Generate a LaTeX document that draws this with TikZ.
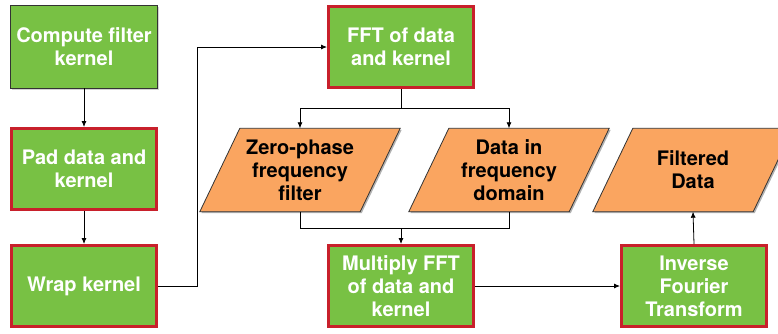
\documentclass[tikz,border=0pt]{standalone}
\usepackage{fontspec}
\setmainfont{TeX Gyre Heros}
\usetikzlibrary{arrows.meta,shadows,calc}
\definecolor{boxgreen}{RGB}{120,193,68}
\definecolor{boxred}{RGB}{200,32,43}
\definecolor{paraorange}{RGB}{250,165,96}
\tikzset{
  greenbox/.style={rectangle, fill=boxgreen, draw=boxred, line width=3pt,
    minimum width=145pt, minimum height=81pt, inner sep=0pt, align=center,
    text=white, font=\fontsize{20}{23}\selectfont\bfseries,
    drop shadow={shadow xshift=1.5pt, shadow yshift=-1.5pt, opacity=0.35}},
  plainbox/.style={greenbox, draw=black!80, line width=0.8pt,
    minimum width=147pt, minimum height=83pt},
  paratext/.style={rectangle, minimum width=160pt, minimum height=83pt,
    inner sep=0pt, align=center, text=black,
    font=\fontsize{20}{23}\selectfont\bfseries},
  parashape/.style={fill=paraorange, draw=black!80, line width=0.8pt},
  arr/.style={draw=black, line width=0.8pt, -{Latex[length=6pt,width=5pt]}},
  ln/.style={draw=black, line width=0.8pt}
}
\newcommand{\myparallel}[1]{%
  \fill[black, opacity=0.3] ($(#1.south west)+(-18.5pt,-1.5pt)$) -- ($(#1.south east)+(-18.5pt,-1.5pt)$) -- ($(#1.north east)+(21.5pt,-1.5pt)$) -- ($(#1.north west)+(21.5pt,-1.5pt)$) -- cycle;
  \path[parashape] ($(#1.south west)+(-20pt,0)$) -- ($(#1.south east)+(-20pt,0)$) -- ($(#1.north east)+(20pt,0)$) -- ($(#1.north west)+(20pt,0)$) -- cycle;
}
\begin{document}
\begin{tikzpicture}[x=1pt,y=-1pt]
\useasboundingbox (0,0) rectangle (778,333);
% green boxes
\node[plainbox] (c1) at (84,46.5) {Compute filter\\kernel};
\node[greenbox] (c2) at (84,169) {Pad data and\\kernel};
\node[greenbox] (c3) at (84,286) {Wrap kernel};
\node[greenbox] (fft) at (401,47) {FFT of data\\and kernel};
\node[greenbox] (mult) at (401,286) {Multiply FFT\\of data and\\kernel};
\node[greenbox] (inv) at (694,286) {Inverse\\Fourier\\Transform};
% parallelograms
\path node[paratext] (p1) at (300,170) {};
\path node[paratext] (p2) at (509,170) {};
\path node[paratext] (p3) at (693,170) {};
\myparallel{p1}
\myparallel{p2}
\myparallel{p3}
\node[paratext] at (p1) {Zero-phase\\frequency\\filter};
\node[paratext] at (p2) {Data in\\frequency\\domain};
\node[paratext] at (p3) {Filtered\\Data};
% connectors
\draw[arr] (c1.south) -- (c2.north);
\draw[arr] (c2.south) -- (c3.north);
\draw[arr] (c3.east) -- ++(39,0) |- (fft.west);
\coordinate (j1) at (401,108);
\draw[ln] (fft.south) -- (j1);
\draw[arr] (j1) -| (p1.north);
\draw[arr] (j1) -| (p2.north);
\coordinate (j2) at (401,228);
\draw[ln] (p1.south) |- (j2);
\draw[ln] (p2.south) |- (j2);
\draw[arr] (j2) -- (mult.north);
\draw[arr] (mult.east) -- (inv.west);
\draw[arr] (inv.north) -- (p3.south);
\end{tikzpicture}
\end{document}
